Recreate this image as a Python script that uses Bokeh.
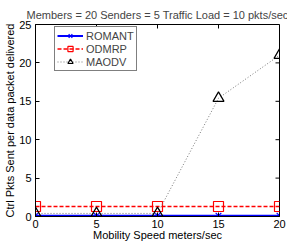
import math
from bokeh.plotting import figure
from bokeh.models import Range1d, FixedTicker, Legend, LegendItem
from bokeh.embed import file_html
from bokeh.resources import INLINE

speed = [0, 5, 10, 15, 20]
romant = [0.1, 0.1, 0.1, 0.1, 0.1]
odmrp = [1.3, 1.3, 1.3, 1.3, 1.3]
maodv = [0.4, 0.4, 0.4, 15.4, 21.0]
x_ticks = [0, 5, 10, 15, 20]
y_ticks = [0, 5, 10, 15, 20, 25]
title_text = "Members = 20 Senders = 5 Traffic Load = 10 pkts/sec"
x_label = "Mobility Speed meters/sec"
y_label = "Ctrl Pkts Sent per data packet delivered"

FONT = "Liberation Sans"

p = figure(width=287, height=246, output_backend="svg", toolbar_location=None,
           x_range=Range1d(0, 20), y_range=Range1d(0, 25),
           min_border_left=35, min_border_right=8, min_border_top=24, min_border_bottom=30)

p.title.text = title_text
p.title.align = "center"
p.title.text_font = FONT
p.title.text_font_size = "11px"
p.title.text_font_style = "normal"
p.title.standoff = 7
p.title.offset = 0

p.grid.visible = False
p.outline_line_color = "black"
p.outline_line_width = 1
p.background_fill_color = "white"
p.border_fill_color = "white"

for ax in [p.xaxis[0], p.yaxis[0]]:
    ax.major_tick_in = 4
    ax.major_tick_out = 0
    ax.minor_tick_line_color = None
    ax.axis_line_color = "black"
    ax.major_tick_line_color = "black"
    ax.major_label_text_font = FONT
    ax.major_label_text_font_size = "11px"
    ax.major_label_text_color = "black"
    ax.axis_label_text_font = FONT
    ax.axis_label_text_font_size = "11px"
    ax.axis_label_text_font_style = "normal"
    ax.axis_label_text_color = "black"

p.xaxis[0].ticker = FixedTicker(ticks=x_ticks)
p.yaxis[0].ticker = FixedTicker(ticks=y_ticks)
p.xaxis[0].axis_label = x_label
p.yaxis[0].axis_label = y_label
p.xaxis[0].major_label_standoff = 3
p.xaxis[0].axis_label_standoff = -2
p.yaxis[0].major_label_standoff = 4
p.yaxis[0].axis_label_standoff = 0

# inward ticks on the top and right sides of the box
p.ray(x=x_ticks, y=[25] * len(x_ticks), length=4, length_units="screen",
      angle=-math.pi / 2, line_color="black", line_width=1)
p.ray(x=[20] * len(y_ticks), y=y_ticks, length=4, length_units="screen",
      angle=math.pi, line_color="black", line_width=1)

r1l = p.line(speed, romant, line_color="#0000ff", line_width=2)
r1m = p.scatter(speed, romant, marker="x", size=8, line_color="#0000ff", line_width=1.2)
r2l = p.line(speed, odmrp, line_color="#ff0000", line_width=1.3, line_dash="4 2")
r2m = p.scatter(speed, odmrp, marker="square", size=10, line_color="#ff0000",
                fill_color=None, line_width=1.2)
r3l = p.line(speed, maodv, line_color="#777777", line_width=1, line_dash="1 2")
r3m = p.scatter(speed, maodv, marker="triangle", size=11, line_color="black",
                fill_color=None, line_width=1.2)

legend = Legend(items=[
    LegendItem(label="ROMANT", renderers=[r1l, r1m]),
    LegendItem(label="ODMRP", renderers=[r2l, r2m]),
    LegendItem(label="MAODV", renderers=[r3l, r3m]),
], location=(19, 145), padding=2, spacing=0, glyph_width=26, glyph_height=13,
    label_height=13, label_standoff=3, margin=0,
    label_text_font=FONT, label_text_font_size="11px",
    border_line_color="black", border_line_width=1, background_fill_alpha=1)
p.add_layout(legend, "center")

open("out.html", "w").write(file_html(p, INLINE))
